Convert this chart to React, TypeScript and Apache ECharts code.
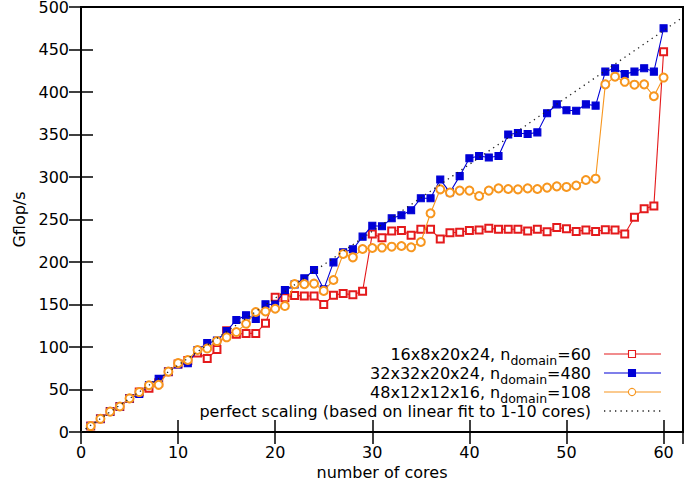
import React, { useEffect, useRef } from "react";
import * as echarts from "echarts";

const cores = [
  1, 2, 3, 4, 5, 6, 7, 8, 9, 10, 11, 12, 13, 14, 15, 16, 17, 18, 19, 20,
  21, 22, 23, 24, 25, 26, 27, 28, 29, 30, 31, 32, 33, 34, 35, 36, 37, 38, 39, 40,
  41, 42, 43, 44, 45, 46, 47, 48, 49, 50, 51, 52, 53, 54, 55, 56, 57, 58, 59, 60,
];

const gflops16x8 = [
  7, 15.5, 24, 30, 39.5, 47, 51.5, 58, 71, 80,
  84, 93, 86.5, 97, 119, 115, 116, 116, 128, 158.5,
  158, 160.5, 160, 160, 150, 161, 163, 161.5, 165.5, 233,
  228.5, 236.5, 237, 231.5, 238.5, 238.5, 227, 234.5, 235, 237,
  237.6, 239.6, 238.5, 238.5, 238.5, 236.5, 238.5, 235.7, 240.5, 239,
  236, 237.6, 236, 238, 237.6, 233, 252.6, 262.7, 266, 447.5,
];

const gflops32x32 = [
  7, 15.5, 24, 30, 39.5, 44.7, 55.3, 62.5, 71, 79.6,
  80.8, 96.5, 104.5, 107.5, 118.8, 131.8, 137.4, 133, 150.3, 150,
  167, 173.7, 180.8, 190.6, 167.8, 199.6, 211.4, 215, 229.8, 242.7,
  242, 251.4, 255, 260.8, 275, 275, 297, 282, 301, 322,
  324.7, 323, 324.7, 350, 351.8, 350.6, 352.5, 375, 385.5, 378.5,
  378, 385.5, 384, 424, 428, 421, 424, 428, 424, 475,
];

const gflops48x12 = [
  7, 15.5, 24, 30, 39.5, 47, 55, 55.5, 71, 81,
  84.7, 96.5, 98.2, 107, 111.4, 117.6, 127.3, 141.2, 141.8, 145,
  148.2, 174, 174, 174.5, 166, 178.8, 209.4, 205.5, 215.3, 216.5,
  217, 218, 218.8, 217.3, 223.5, 257.3, 285.5, 281.6, 284, 284,
  277.6, 284, 286.6, 285.9, 285.5, 286.6, 285.9, 287.5, 289, 288.3,
  290, 296.5, 298, 409, 418, 412, 408.6, 409, 395, 417,
];

// endpoints of the "perfect scaling" fit line
const perfectX = [0, 62];
const perfectY = [0, 488];

const seriesNames = [
  "16x8x20x24, n_domain=60",
  "32x32x20x24, n_domain=480",
  "48x12x12x16, n_domain=108",
  "perfect scaling (based on linear fit to 1-10 cores)",
];
const legendParts = [
  ["16x8x20x24, n", "domain", "=60"],
  ["32x32x20x24, n", "domain", "=480"],
  ["48x12x12x16, n", "domain", "=108"],
  ["perfect scaling (based on linear fit to 1-10 cores)", "", ""],
];

const colors = ["#e41a1c", "#0000d6", "#f7961e", "#222222"];
const symbols = ["emptyRect", "rect", "emptyCircle", "none"];

const FONT = "DejaVu Sans, sans-serif";
const FS = 16;

function zip(xs: number[], ys: number[]) {
  return xs.map((x, i) => [x, ys[i]]);
}

export default function App() {
  const ref = useRef<HTMLDivElement>(null);

  useEffect(() => {
    if (!ref.current) return;
    const chart = echarts.init(ref.current, undefined, { renderer: "svg" });

    const dataSets = [gflops16x8, gflops32x32, gflops48x12];

    const series: any[] = dataSets.map((ys, i) => ({
      name: seriesNames[i],
      type: "line",
      data: zip(cores, ys),
      symbol: symbols[i],
      symbolSize: i === 2 ? 8 : 7,
      showSymbol: true,
      lineStyle: { color: colors[i], width: 1.1 },
      itemStyle: { color: colors[i], borderColor: colors[i], borderWidth: 1.1 },
      xAxisIndex: 0,
      yAxisIndex: 0,
      z: 2 + i,
    }));
    series.push({
      name: seriesNames[3],
      type: "line",
      data: zip(perfectX, perfectY),
      symbol: "none",
      lineStyle: { color: colors[3], width: 1.3, type: [1.3, 4.2] },
      xAxisIndex: 0,
      yAxisIndex: 0,
      z: 6,
    });

    const rowY = [354, 373, 392, 411];
    const textRight = 591;
    const lineX1 = 604;
    const lineX2 = 661;
    const symX = 632;
    const graphics: any[] = [];
    legendParts.forEach((parts, i) => {
      const [a, s, b] = parts;
      const txt = s ? `{m|${a}}{s|${s}}{m|${b}}` : `{m|${a}}`;
      graphics.push({
        type: "text",
        x: textRight,
        y: rowY[i],
        style: {
          text: txt,
          align: "right",
          verticalAlign: "middle",
          fill: "#000",
          rich: {
            m: { fontSize: FS, fontFamily: FONT, fill: "#000", lineHeight: 26, verticalAlign: "middle" },
            s: { fontSize: 12.5, fontFamily: FONT, fill: "#000", lineHeight: 13, verticalAlign: "bottom" },
          },
        },
      });
      graphics.push({
        type: "line",
        shape: { x1: lineX1, y1: rowY[i], x2: lineX2, y2: rowY[i] },
        style: i === 3
          ? { stroke: colors[3], lineWidth: 1.3, lineDash: [1.3, 4.2] }
          : { stroke: colors[i], lineWidth: 1.1 },
      });
      if (i === 0 || i === 1) {
        graphics.push({
          type: "rect",
          shape: { x: symX - 3.5, y: rowY[i] - 3.5, width: 7, height: 7 },
          style: i === 0
            ? { fill: "#fff", stroke: colors[i], lineWidth: 1.1 }
            : { fill: colors[i], stroke: colors[i], lineWidth: 1.1 },
        });
      } else if (i === 2) {
        graphics.push({
          type: "circle",
          shape: { cx: symX, cy: rowY[i], r: 3.6 },
          style: { fill: "#fff", stroke: colors[i], lineWidth: 1.1 },
        });
      }
    });

    const axisLabelStyle = { color: "#000", fontSize: FS, fontFamily: FONT };

    chart.setOption({
      animation: false,
      backgroundColor: "#fff",
      grid: {
        left: 81,
        right: 16,
        top: 7,
        bottom: 48,
        show: true,
        borderColor: "#000",
        borderWidth: 2,
        backgroundColor: "transparent",
        containLabel: false,
        outerBoundsMode: "none",
      },
      xAxis: [
        {
          type: "value",
          min: 0,
          max: 62,
          interval: 10,
          position: "bottom",
          name: "number of cores",
          nameLocation: "middle",
          nameGap: 24,
          nameTextStyle: { color: "#000", fontSize: FS, fontFamily: FONT },
          axisLine: { show: false },
          axisTick: { show: true, inside: true, length: 12, lineStyle: { color: "#000", width: 1.5 } },
          axisLabel: {
            ...axisLabelStyle,
            margin: 12,
            formatter: (v: number) => (v % 10 === 0 ? String(v) : ""),
          },
          splitLine: { show: false },
        },
        {
          type: "value",
          min: 0,
          max: 62,
          interval: 10,
          position: "top",
          axisLine: { show: false },
          axisTick: { show: true, inside: true, length: 12, lineStyle: { color: "#000", width: 1.5 } },
          axisLabel: { show: false },
          splitLine: { show: false },
        },
      ],
      yAxis: [
        {
          type: "value",
          min: 0,
          max: 500,
          interval: 50,
          position: "left",
          name: "Gflop/s",
          nameLocation: "middle",
          nameGap: 51,
          nameTextStyle: { color: "#000", fontSize: FS, fontFamily: FONT },
          axisLine: { show: false },
          axisTick: { show: true, inside: true, length: 12, lineStyle: { color: "#000", width: 1.5 } },
          axisLabel: { ...axisLabelStyle, margin: 12 },
          splitLine: { show: false },
        },
        {
          type: "value",
          min: 0,
          max: 500,
          interval: 50,
          position: "right",
          axisLine: { show: false },
          axisTick: { show: true, inside: true, length: 12, lineStyle: { color: "#000", width: 1.5 } },
          axisLabel: { show: false },
          splitLine: { show: false },
        },
      ],
      series,
      graphic: graphics,
    });

    return () => chart.dispose();
  }, []);

  return <div ref={ref} style={{ width: 699, height: 480, position: "absolute", left: 0, top: 0 }} />;
}
